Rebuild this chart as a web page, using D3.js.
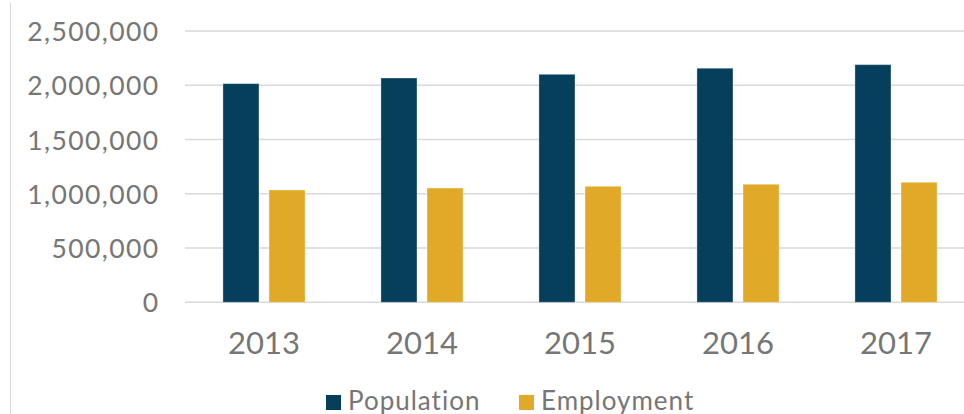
<!DOCTYPE html>
<html>
<head>
<meta charset="utf-8">
<script src="https://cdn.jsdelivr.net/npm/d3@7"></script>
<style>
  html, body { margin: 0; padding: 0; background: #fff; }
  svg { display: block; }
  text { font-family: Lato, "Open Sans", sans-serif; fill: #767676; }
</style>
</head>
<body>
<svg id="chart" width="964" height="414"></svg>
<script>
const categories = ["2013", "2014", "2015", "2016", "2017"];
const seriesNames = ["Population", "Employment"];
const population = [2015000, 2067000, 2101000, 2157000, 2190000];
const employment = [1035000, 1053000, 1069000, 1088000, 1106000];
const yTicks = [0, 500000, 1000000, 1500000, 2000000, 2500000];
const colors = ["#053F5C", "#E0AA28"];

const svg = d3.select("#chart");
const W = 964, H = 414;

const y = d3.scaleLinear().domain([0, 2500000]).range([302.3, 31]);
const x = d3.scaleBand().domain(categories).range([185, 975]).paddingInner(0.48).paddingOuter(0.24);
const xs = d3.scaleBand().domain(seriesNames).range([0, x.bandwidth()]).paddingInner(0.217);
const color = d3.scaleOrdinal().domain(seriesNames).range(colors);

// left border line
svg.append("line").attr("x1", 10.5).attr("x2", 10.5).attr("y1", 3).attr("y2", H)
  .attr("stroke", "#d9d9d9").attr("stroke-width", 1);

// gridlines
svg.append("g").selectAll("line").data(yTicks).join("line")
  .attr("x1", 185).attr("x2", W)
  .attr("y1", d => y(d)).attr("y2", d => y(d))
  .attr("stroke", "#d9d9d9").attr("stroke-width", 1.5);

// y axis labels
const fmt = d3.format(",");
const yAxis = d3.axisLeft(y).tickValues(yTicks).tickFormat(fmt).tickSize(0).tickPadding(0);
const gy = svg.append("g").attr("transform", "translate(159.5,0)").call(yAxis);
gy.select(".domain").remove();
gy.selectAll("text").attr("font-size", 26.5).attr("font-family", "Lato, sans-serif")
  .attr("letter-spacing", "1.4px")
  .attr("fill", "#767676").attr("dy", "0.36em");

// bars
const rows = categories.map((c, i) => ({ cat: c, vals: [
  { s: "Population", v: population[i] },
  { s: "Employment", v: employment[i] }
]}));
const groups = svg.append("g").selectAll("g").data(rows).join("g")
  .attr("transform", d => `translate(${x(d.cat)},0)`);
groups.selectAll("rect").data(d => d.vals).join("rect")
  .attr("x", d => xs(d.s))
  .attr("width", xs.bandwidth())
  .attr("y", d => y(d.v))
  .attr("height", d => y(0) - y(d.v))
  .attr("fill", d => color(d.s))
  .attr("stroke", "rgba(255,255,255,0.35)").attr("stroke-width", 1);

// x axis labels
const xAxis = d3.axisBottom(x).tickSize(0).tickPadding(0);
const gx = svg.append("g").attr("transform", "translate(0,354)").call(xAxis);
gx.select(".domain").remove();
gx.selectAll("text").attr("font-size", 31).attr("font-family", "Lato, sans-serif")
  .attr("fill", "#767676").attr("dy", 0);

// legend
const legendX = [326, 519];
const lg = svg.append("g").selectAll("g").data(seriesNames).join("g")
  .attr("transform", (d, i) => `translate(${legendX[i]},0)`);
lg.append("rect").attr("x", 0).attr("y", 395).attr("width", 15).attr("height", 15)
  .attr("fill", d => color(d));
lg.append("text").attr("x", 22).attr("y", 409.5).attr("font-size", 26)
  .attr("letter-spacing", "1px")
  .text(d => d);
</script>
</body>
</html>
